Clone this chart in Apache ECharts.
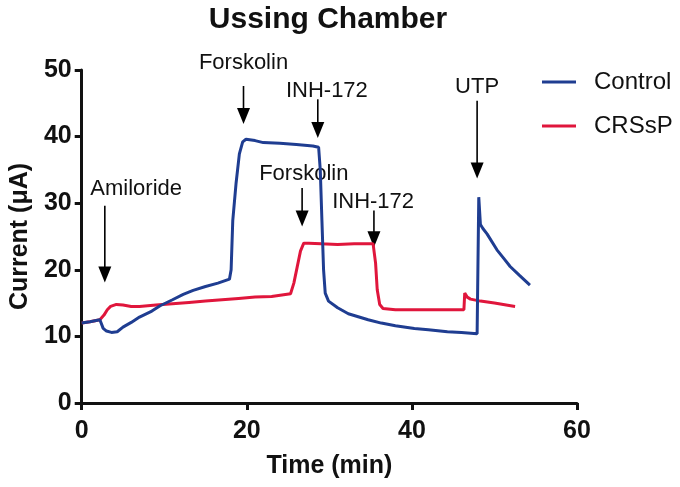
<!DOCTYPE html>
<html>
<head>
<meta charset="utf-8">
<script src="https://cdn.jsdelivr.net/npm/echarts@6/dist/echarts.min.js"></script>
<style>
  html, body { margin: 0; padding: 0; background: #fff; }
  #chart { width: 680px; height: 487px; }
</style>
</head>
<body>
<div id="chart"></div>
<script>
// Control trace (time in min, current in µA)
const controlTime = [0, 1, 2.2, 2.6, 3, 3.6, 4.3, 5, 6, 7, 8.5, 9.5, 11, 12.3, 13.5, 15, 16.5, 17.9, 18.1, 18.3, 18.7, 19.1, 19.5, 19.9, 21, 22, 24, 26, 28, 28.7, 28.9, 29.1, 29.3, 29.5, 29.9, 31, 32.3, 34.7, 36.3, 38, 40.3, 42, 44.3, 46, 47.9, 48.0, 48.1, 48.3, 48.6, 49.1, 50.3, 51.2, 51.9, 53, 54.3];
const controlCurrent = [12.0, 12.2, 12.5, 11.2, 10.8, 10.6, 10.7, 11.4, 12.1, 12.9, 13.8, 14.6, 15.5, 16.3, 16.9, 17.5, 18.0, 18.6, 20, 27.4, 33, 37.4, 39.2, 39.6, 39.4, 39.1, 39.0, 38.8, 38.6, 38.4, 35, 27.4, 20, 16.5, 15.3, 14.3, 13.4, 12.5, 12.0, 11.6, 11.2, 11.0, 10.7, 10.6, 10.4, 10.4, 30.9, 26.8, 26.2, 25.4, 23.0, 21.6, 20.5, 19.2, 17.7];

// CRSsP trace
const crsspTime = [0, 1, 2.2, 2.7, 3.1, 3.5, 4.2, 5, 6, 7, 9, 11, 13, 15, 17, 19, 21, 23, 25.3, 25.7, 26.1, 26.5, 26.9, 27.5, 29, 31, 33, 35.3, 35.6, 35.8, 36.1, 36.5, 38, 40, 42, 44, 46.3, 46.4, 46.7, 47.1, 48.3, 50, 52.5];
const crsspCurrent = [12.0, 12.2, 12.5, 13.2, 14.0, 14.5, 14.8, 14.7, 14.5, 14.5, 14.7, 14.9, 15.1, 15.3, 15.5, 15.7, 15.9, 16.0, 16.4, 18, 20.4, 22.8, 24.0, 24.0, 23.9, 23.8, 23.9, 23.9, 21, 17, 14.8, 14.2, 14.0, 14.0, 14.0, 14.0, 14.0, 16.5, 15.9, 15.6, 15.3, 15.0, 14.5];

// drug-addition annotations
const noteText = ['Amiloride', 'Forskolin', 'INH-172', 'Forskolin', 'INH-172', 'UTP'];
const noteTextTime = [6.6, 19.6, 29.7, 26.9, 35.3, 47.9];
const noteTextValue = [32.2, 51.0, 46.9, 34.4, 30.2, 47.5];
const arrowTime = [2.8, 19.6, 28.6, 26.7, 35.4, 47.9];
const arrowTop = [29.6, 47.6, 45.6, 32.3, 28.9, 45.4];
const arrowTip = [18.1, 41.9, 39.8, 26.5, 23.4, 33.7];

const xTicks = [0, 20, 40, 60];
const yTicks = [0, 10, 20, 30, 40, 50];

const zip = (a, b) => a.map((v, i) => [v, b[i]]);
const FONT = 'Liberation Sans, Arial, Helvetica, sans-serif';

const chart = echarts.init(document.getElementById('chart'), null, { renderer: 'canvas' });

chart.setOption({
    backgroundColor: '#ffffff',
    animation: false,
    title: {
        text: 'Ussing Chamber',
        left: 323,
        top: 0,
        textAlign: 'center',
        textStyle: { fontFamily: FONT, fontSize: 30, fontWeight: 'bold', color: '#111' },
    },
    legend: {
        data: ['Control', 'CRSsP'],
        orient: 'vertical',
        left: 537,
        top: 63,
        icon: 'rect',
        itemWidth: 34,
        itemHeight: 3,
        itemGap: 16,
        textStyle: { fontFamily: FONT, fontSize: 24, color: '#111', lineHeight: 28, padding: [0, 0, 0, 13] },
    },
    grid: { left: 78, right: 103, top: 70, bottom: 84 },
    xAxis: {
        type: 'value',
        min: xTicks[0],
        max: xTicks[xTicks.length - 1],
        interval: 20,
        name: 'Time (min)',
        nameLocation: 'middle',
        nameGap: 51,
        nameTextStyle: { fontFamily: FONT, fontSize: 25, fontWeight: 'bold', color: '#111' },
        axisLine: { lineStyle: { color: '#111', width: 3 } },
        axisTick: { length: 7, lineStyle: { color: '#111', width: 3 } },
        axisLabel: { margin: 16, fontFamily: FONT, fontSize: 25, fontWeight: 'bold', color: '#111' },
        splitLine: { show: false },
    },
    yAxis: {
        type: 'value',
        min: yTicks[0],
        max: yTicks[yTicks.length - 1],
        interval: 10,
        name: 'Current (μA)',
        nameLocation: 'middle',
        nameGap: 48,
        nameTextStyle: { fontFamily: FONT, fontSize: 25, fontWeight: 'bold', color: '#111' },
        axisLine: { show: true, lineStyle: { color: '#111', width: 3 } },
        axisTick: { show: true, length: 7, lineStyle: { color: '#111', width: 3 } },
        axisLabel: { margin: 10, fontFamily: FONT, fontSize: 25, fontWeight: 'bold', color: '#111' },
        splitLine: { show: false },
    },
    series: [
        {
            name: 'CRSsP',
            type: 'line',
            showSymbol: false,
            color: '#e0163c',
            lineStyle: { width: 3 },
            data: zip(crsspTime, crsspCurrent),
        },
        {
            name: 'Control',
            type: 'line',
            showSymbol: false,
            color: '#1f3d91',
            lineStyle: { width: 3 },
            data: zip(controlTime, controlCurrent),
        },
        {
            type: 'custom',
            silent: true,
            clip: false,
            data: arrowTime.map((t, i) => [t, arrowTop[i], arrowTip[i], noteTextTime[i], noteTextValue[i]]),
            renderItem(params, api) {
                const top = api.coord([api.value(0), api.value(1)]);
                const tip = api.coord([api.value(0), api.value(2)]);
                const txt = api.coord([api.value(3), api.value(4)]);
                return {
                    type: 'group',
                    children: [
                        { type: 'line', shape: { x1: top[0], y1: top[1], x2: tip[0], y2: tip[1] - 12 }, style: { stroke: '#000', lineWidth: 1.6 } },
                        { type: 'polygon', shape: { points: [[tip[0] - 6.5, tip[1] - 16], [tip[0] + 6.5, tip[1] - 16], [tip[0], tip[1]]] }, style: { fill: '#000' } },
                        { type: 'text', style: { text: noteText[params.dataIndex], x: txt[0], y: txt[1], align: 'center', verticalAlign: 'middle', font: '22px ' + FONT, fill: '#111' } },
                    ],
                };
            },
        },
    ],
});
</script>
</body>
</html>
